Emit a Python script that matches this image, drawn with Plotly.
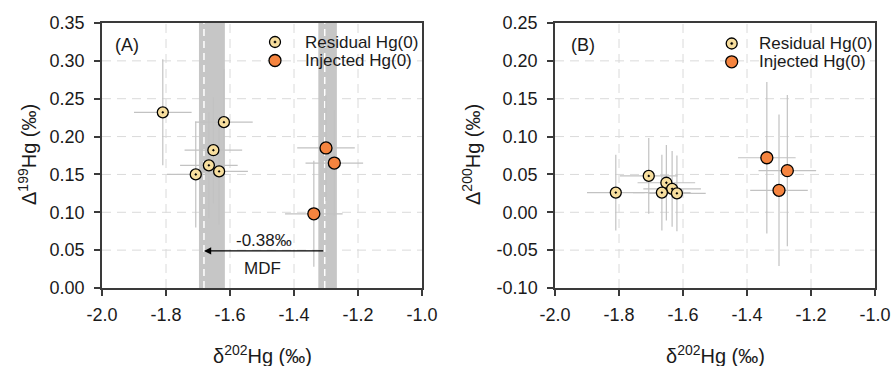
import plotly.graph_objects as go

# ---------------- data ----------------
res_d202 = [-1.810, -1.707, -1.652, -1.634, -1.666, -1.619]
res_D199 = [0.232, 0.150, 0.182, 0.154, 0.162, 0.219]
res_D200 = [0.026, 0.048, 0.039, 0.031, 0.026, 0.025]
res_d202_err = [0.09, 0.09, 0.09, 0.09, 0.09, 0.09]
res_D199_err = [0.07, 0.07, 0.07, 0.07, 0.07, 0.07]
res_D200_err = [0.05, 0.05, 0.05, 0.05, 0.05, 0.05]

inj_d202 = [-1.338, -1.274, -1.300]
inj_D199 = [0.098, 0.165, 0.185]
inj_D200 = [0.072, 0.055, 0.029]
inj_d202_err = [0.09, 0.09, 0.09]
inj_D199_err = [0.07, 0.07, 0.07]
inj_D200_err = [0.10, 0.10, 0.10]

band_res = [-1.697, -1.616]
band_inj = [-1.324, -1.266]

x_ticks = [-2.0, -1.8, -1.6, -1.4, -1.2, -1.0]
x_ticklabels = ["-2.0", "-1.8", "-1.6", "-1.4", "-1.2", "-1.0"]
yA_ticks = [0.00, 0.05, 0.10, 0.15, 0.20, 0.25, 0.30, 0.35]
yA_ticklabels = ["0.00", "0.05", "0.10", "0.15", "0.20", "0.25", "0.30", "0.35"]
yB_ticks = [-0.10, -0.05, 0.00, 0.05, 0.10, 0.15, 0.20, 0.25]
yB_ticklabels = ["-0.10", "-0.05", "0.00", "0.05", "0.10", "0.15", "0.20", "0.25"]

series_names = ["Residual Hg(0)", "Injected Hg(0)"]
mdf_label = "-0.38‰"

# ---------------- style ----------------
W, H = 893, 366
FONT = "Liberation Sans, Arial, sans-serif"
TXT = "#1a1a1a"
RES_FILL = "#F7DE9E"
INJ_FILL = "#F5843F"
ERR_COL = "#c2c2c2"
GRID_COL = "#dadada"
AX_COL = "#3a3a3a"
GRID_DASH = "9px,6px"
TITLE_SIZE = 20

def px(x):
    return x / W

def py(y):
    return 1 - y / H

fig = go.Figure()

def err(vals):
    return dict(type="data", array=vals, color=ERR_COL, thickness=1.2, width=0)

# Panel A
fig.add_trace(go.Scatter(x=res_d202, y=res_D199, mode="markers", xaxis="x", yaxis="y",
                         error_x=err(res_d202_err), error_y=err(res_D199_err),
                         marker=dict(symbol="circle-dot", size=11, color=RES_FILL,
                                     line=dict(color="black", width=1.3)),
                         showlegend=False, name=series_names[0]))
fig.add_trace(go.Scatter(x=inj_d202, y=inj_D199, mode="markers", xaxis="x", yaxis="y",
                         error_x=err(inj_d202_err), error_y=err(inj_D199_err),
                         marker=dict(symbol="circle", size=12, color=INJ_FILL,
                                     line=dict(color="black", width=1.3)),
                         showlegend=False, name=series_names[1]))
# Panel B
fig.add_trace(go.Scatter(x=res_d202, y=res_D200, mode="markers", xaxis="x2", yaxis="y2",
                         error_x=err(res_d202_err), error_y=err(res_D200_err),
                         marker=dict(symbol="circle-dot", size=11, color=RES_FILL,
                                     line=dict(color="black", width=1.3)),
                         showlegend=False, name=series_names[0]))
fig.add_trace(go.Scatter(x=inj_d202, y=inj_D200, mode="markers", xaxis="x2", yaxis="y2",
                         error_x=err(inj_d202_err), error_y=err(inj_D200_err),
                         marker=dict(symbol="circle", size=12, color=INJ_FILL,
                                     line=dict(color="black", width=1.3)),
                         showlegend=False, name=series_names[1]))

res_mean = sum(res_d202) / len(res_d202)
inj_mean = sum(inj_d202) / len(inj_d202)

shapes = []
# dashed grid drawn as shapes so that the grey bands can cover it
for (xr, yr, yt) in (("x", "y", yA_ticks), ("x2", "y2", yB_ticks)):
    for t in x_ticks[1:-1]:
        shapes.append(dict(type="line", xref=xr, yref=yr + " domain", x0=t, x1=t, y0=0, y1=1,
                           line=dict(color=GRID_COL, width=1, dash=GRID_DASH), layer="below"))
    for t in yt[1:-1]:
        shapes.append(dict(type="line", xref=xr + " domain", yref=yr, x0=0, x1=1, y0=t, y1=t,
                           line=dict(color=GRID_COL, width=1, dash=GRID_DASH), layer="below"))
for b in (band_res, band_inj):
    shapes.append(dict(type="rect", xref="x", yref="y domain", x0=b[0], x1=b[1], y0=0, y1=1,
                       fillcolor="#c6c6c6", line=dict(width=0), layer="below"))
for m in (res_mean, inj_mean):
    shapes.append(dict(type="line", xref="x", yref="y domain", x0=m, x1=m, y0=0, y1=1,
                       line=dict(color="white", width=1.5, dash="7px,5px"), layer="below"))

# manual legends
legend_pos = [  # (symbol x px, row1 y px, row2 y px, text x px)
    (275, 42, 60.5, 303),
    (731.7, 43.5, 61.8, 756.7),
]
annotations = []
for (sx, y1, y2, tx) in legend_pos:
    for (yy, fill, r, name, dot) in ((y1, RES_FILL, 5.5, series_names[0], True),
                                     (y2, INJ_FILL, 6, series_names[1], False)):
        shapes.append(dict(type="circle", xref="paper", yref="paper",
                           xsizemode="pixel", ysizemode="pixel",
                           xanchor=px(sx), yanchor=py(yy), x0=-r, x1=r, y0=-r, y1=r,
                           fillcolor=fill, line=dict(color="black", width=1.3)))
        if dot:
            shapes.append(dict(type="circle", xref="paper", yref="paper",
                               xsizemode="pixel", ysizemode="pixel",
                               xanchor=px(sx), yanchor=py(yy), x0=-1.1, x1=1.1, y0=-1.1, y1=1.1,
                               fillcolor="black", line=dict(color="black", width=0.5)))
        annotations.append(dict(text=name, xref="paper", yref="paper", x=px(tx), y=py(yy),
                                xanchor="left", yanchor="middle", showarrow=False,
                                font=dict(size=17, color=TXT, family=FONT)))

# panel labels
annotations.append(dict(text="(A)", xref="paper", yref="paper", x=px(127), y=py(45),
                        xanchor="center", yanchor="middle", showarrow=False,
                        font=dict(size=18, color=TXT, family=FONT)))
annotations.append(dict(text="(B)", xref="paper", yref="paper", x=px(583), y=py(45),
                        xanchor="center", yanchor="middle", showarrow=False,
                        font=dict(size=18, color=TXT, family=FONT)))

# MDF arrow
annotations.append(dict(x=res_mean, y=0.049, ax=inj_mean, ay=0.049, xref="x", yref="y",
                        axref="x", ayref="y", showarrow=True, arrowhead=2, arrowsize=1.2,
                        arrowwidth=1.2, arrowcolor="black", text=""))
annotations.append(dict(text=mdf_label, x=-1.494, y=0.0634, xref="x", yref="y",
                        showarrow=False, font=dict(size=17, color=TXT, family=FONT)))
annotations.append(dict(text="MDF", x=-1.497, y=0.026, xref="x", yref="y",
                        showarrow=False, font=dict(size=17, color=TXT, family=FONT)))

# axis titles
annotations.append(dict(text="Δ<sup>199</sup>Hg (‰)", xref="paper", yref="paper",
                        x=px(27), y=py(155), textangle=-90, showarrow=False,
                        xanchor="center", yanchor="middle",
                        font=dict(size=TITLE_SIZE, color=TXT, family=FONT)))
annotations.append(dict(text="Δ<sup>200</sup>Hg (‰)", xref="paper", yref="paper",
                        x=px(471), y=py(155), textangle=-90, showarrow=False,
                        xanchor="center", yanchor="middle",
                        font=dict(size=TITLE_SIZE, color=TXT, family=FONT)))
annotations.append(dict(text="δ<sup>202</sup>Hg (‰)", xref="paper", yref="paper",
                        x=px(262), y=py(354), showarrow=False,
                        xanchor="center", yanchor="middle",
                        font=dict(size=TITLE_SIZE, color=TXT, family=FONT)))
annotations.append(dict(text="δ<sup>202</sup>Hg (‰)", xref="paper", yref="paper",
                        x=px(715), y=py(354), showarrow=False,
                        xanchor="center", yanchor="middle",
                        font=dict(size=TITLE_SIZE, color=TXT, family=FONT)))

def xaxis(domain, anchor):
    return dict(domain=domain, anchor=anchor, range=[-2.0, -1.0],
                tickvals=x_ticks, ticktext=x_ticklabels, automargin=False,
                showline=True, mirror=True, linecolor=AX_COL, linewidth=1.5,
                ticks="outside", ticklen=6, tickwidth=1.5, tickcolor=AX_COL,
                ticklabelstandoff=4, showgrid=False,
                zeroline=False, tickfont=dict(size=18, color=TXT, family=FONT))

def yaxis(domain, anchor, rng, tv, tt):
    return dict(domain=domain, anchor=anchor, range=rng, tickvals=tv, ticktext=tt,
                automargin=False,
                showline=True, mirror=True, linecolor=AX_COL, linewidth=1.5,
                ticks="outside", ticklen=6, tickwidth=1.5, tickcolor=AX_COL,
                ticklabelstandoff=6, showgrid=False,
                zeroline=False, tickfont=dict(size=18, color=TXT, family=FONT))

ydom = [1 - 288 / H, 1 - 23 / H]
fig.update_layout(
    width=W, height=H, margin=dict(l=0, r=0, t=0, b=0, autoexpand=False),
    paper_bgcolor="white", plot_bgcolor="white",
    xaxis=xaxis([102 / W, 422 / W], "y"),
    yaxis=yaxis(ydom, "x", [0.0, 0.35], yA_ticks, yA_ticklabels),
    xaxis2=xaxis([555 / W, 875 / W], "y2"),
    yaxis2=yaxis(ydom, "x2", [-0.10, 0.25], yB_ticks, yB_ticklabels),
    shapes=shapes, annotations=annotations, showlegend=False,
    font=dict(family=FONT, color=TXT),
)

fig.write_html("out.html")
